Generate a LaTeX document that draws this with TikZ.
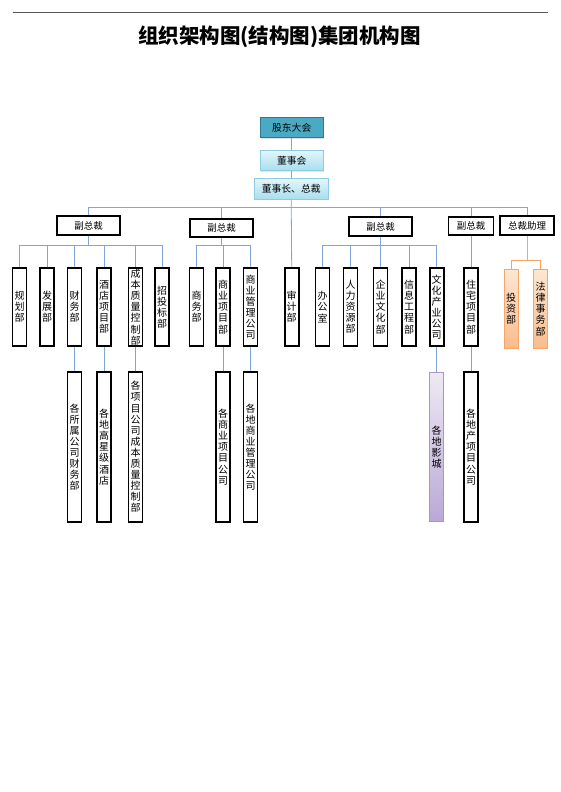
\documentclass[tikz,border=0pt]{standalone}
\usepackage{fontspec}
\newfontfamily\cjk{Noto Sans CJK SC}
\usetikzlibrary{shadows}

\definecolor{LinkBlue}{HTML}{7EA6DA}
\definecolor{LinkOrange}{HTML}{F8A462}
\definecolor{TealFill}{HTML}{4AAAC4}
\definecolor{TealLine}{HTML}{2B7A8F}
\definecolor{CyanTop}{HTML}{E4F5FB}
\definecolor{CyanBot}{HTML}{A8DEEE}
\definecolor{CyanLine}{HTML}{8CCDE3}
\definecolor{PeachTop}{HTML}{FDE6D2}
\definecolor{PeachBot}{HTML}{F9BC8C}
\definecolor{PeachLine}{HTML}{F5A46A}
\definecolor{LilacTop}{HTML}{EEE9F4}
\definecolor{LilacBot}{HTML}{B9A8D7}
\definecolor{LilacLine}{HTML}{A995C9}

\begin{document}
\begin{tikzpicture}[x=1pt, y=-1pt,
  hbox/.style={draw=black, line width=1.7pt, fill=white, inner sep=0pt,
    minimum height=18.5pt, font=\cjk\fontsize{9.5}{11}\selectfont},
  vbox/.style={draw=black, line width=1.7pt, fill=white, inner sep=0pt, align=center,
    minimum width=14pt, minimum height=78.5pt, font=\cjk\fontsize{10}{11.1}\selectfont},
  longbox/.style={vbox, minimum height=149.5pt},
  tealbox/.style={draw=TealLine, line width=1pt, fill=TealFill, inner sep=0pt,
    minimum width=63pt, minimum height=20.5pt, font=\cjk\fontsize{9.8}{11}\selectfont,
    drop shadow={opacity=0.25, shadow xshift=0.8pt, shadow yshift=-0.8pt}},
  cyanbox/.style={draw=CyanLine, line width=0.8pt, top color=CyanTop, bottom color=CyanBot,
    inner sep=0pt, minimum height=20.5pt, font=\cjk\fontsize{9.8}{11}\selectfont,
    drop shadow={opacity=0.2, shadow xshift=0.8pt, shadow yshift=-0.8pt}},
  peachbox/.style={vbox, draw=PeachLine, line width=0.8pt, top color=PeachTop, bottom color=PeachBot},
  lilacbox/.style={longbox, draw=LilacLine, line width=0.8pt, top color=LilacTop, bottom color=LilacBot},
  link/.style={draw=LinkBlue, line width=0.8pt},
  olink/.style={draw=LinkOrange, line width=0.8pt}]

 \useasboundingbox (0,0) rectangle (560,792);

 %%%%%%%%%% Titre %%%%%%%%%%
 \draw [black!65, line width=0.9pt] (12.5,12.5) -- (547.5,12.5);
 \node (title) at (279.5,36.7) {\cjk\bfseries\fontsize{20.5}{22}\selectfont 组织架构图(结构图)集团机构图};

 %%%%%%%%%% Points pour travailler %%%%%%%%%%
 \coordinate (bus) at (0,207.5) ;
 \coordinate (sub) at (0,245) ;
 \coordinate (osub) at (0,260) ;

 %%%%%%%%%% Direction %%%%%%%%%%
 \node [tealbox] (gd) at (291.7,127.5) {股东大会};
 \node [cyanbox, minimum width=63pt] (dsh) at (291.7,160.5) {董事会};
 \node [cyanbox, minimum width=74pt] (zc) at (291.2,189) {董事长、总裁};

 \node [hbox, minimum width=63pt] (fz1) at (88.5,225.5) {副总裁};
 \node [hbox, minimum width=63pt] (fz2) at (221.5,228) {副总裁};
 \node [hbox, minimum width=63pt] (fz3) at (380.7,226.5) {副总裁};
 \node [hbox, minimum width=45pt] (fz4) at (471,226) {副总裁};
 \node [hbox, minimum width=54pt] (zl) at (527,225.5) {总裁助理};

 %%%%%%%%%% Departements %%%%%%%%%%
 \node [vbox] (gh) at (19.5,307) {规\\划\\部};
 \node [vbox] (fzb) at (47,307) {发\\展\\部};
 \node [vbox] (cw) at (74.5,307) {财\\务\\部};
 \node [vbox] (jd) at (104,307) {酒\\店\\项\\目\\部};
 \node [vbox] (cb) at (135.5,307) {成\\本\\质\\量\\控\\制\\部};
 \node [vbox] (ztb) at (162,307) {招\\投\\标\\部};

 \node [vbox] (sw) at (196.5,307) {商\\务\\部};
 \node [vbox] (sy) at (223,307) {商\\业\\项\\目\\部};
 \node [vbox] (sg) at (250.5,307) {商\\业\\管\\理\\公\\司};

 \node [vbox] (sj) at (291.7,307) {审\\计\\部};

 \node [vbox] (bg) at (322.5,307) {办\\公\\室};
 \node [vbox] (rl) at (350.5,307) {人\\力\\资\\源\\部};
 \node [vbox] (qy) at (380.5,307) {企\\业\\文\\化\\部};
 \node [vbox] (xx) at (409,307) {信\\息\\工\\程\\部};
 \node [vbox] (wh) at (436.7,307) {文\\化\\产\\业\\公\\司};

 \node [vbox] (zz) at (471,307) {住\\宅\\项\\目\\部};

 \node [peachbox] (tz) at (511,309) {投\\资\\部};
 \node [peachbox] (fl) at (540.5,309) {法\\律\\事\\务\\部};

 %%%%%%%%%% Filiales %%%%%%%%%%
 \node [longbox] (cwb) at (74.5,447) {各\\所\\属\\公\\司\\财\\务\\部};
 \node [longbox] (jdb) at (104,447) {各\\地\\高\\星\\级\\酒\\店};
 \node [longbox] (cbb) at (135.5,447) {各\\项\\目\\公\\司\\成\\本\\质\\量\\控\\制\\部};
 \node [longbox] (syb) at (223,447) {各\\商\\业\\项\\目\\公\\司};
 \node [longbox] (sgb) at (250.5,447) {各\\地\\商\\业\\管\\理\\公\\司};
 \node [lilacbox] (ycb) at (436.7,447) {各\\地\\影\\城};
 \node [longbox] (dcb) at (471,447) {各\\地\\产\\项\\目\\公\\司};

 %%%%%%%%%% Liaisons %%%%%%%%%%
 \draw [link] (gd) -- (dsh);
 \draw [link] (dsh) -- (zc);
 \draw [link] (zc.south) -- (sj.north);

 \draw [link] (fz1.north) -- (fz1.north |- bus) -- (zc.south |- bus);
 \draw [link] (fz2.north) -- (fz2.north |- bus) -- (zc.south |- bus);
 \draw [link] (fz3.north) -- (fz3.north |- bus) -- (zc.south |- bus);
 \draw [link] (fz4.north) -- (fz4.north |- bus) -- (zc.south |- bus);
 \draw [link] (zl.north) -- (zl.north |- bus) -- (zc.south |- bus);

 % Layer 1
 \draw [link] (fz1.south) -- (fz1.south |- sub);
 \draw [link] (gh.north) -- (gh.north |- sub) -- (fz1.south |- sub);
 \draw [link] (fzb.north) -- (fzb.north |- sub) -- (fz1.south |- sub);
 \draw [link] (cw.north) -- (cw.north |- sub) -- (fz1.south |- sub);
 \draw [link] (jd.north) -- (jd.north |- sub) -- (fz1.south |- sub);
 \draw [link] (cb.north) -- (cb.north |- sub) -- (fz1.south |- sub);
 \draw [link] (ztb.north) -- (ztb.north |- sub) -- (fz1.south |- sub);

 % Layer 2
 \draw [link] (fz2.south) -- (fz2.south |- sub);
 \draw [link] (sw.north) -- (sw.north |- sub) -- (fz2.south |- sub);
 \draw [link] (sy.north) -- (sy.north |- sub) -- (fz2.south |- sub);
 \draw [link] (sg.north) -- (sg.north |- sub) -- (fz2.south |- sub);

 % Layer 3
 \draw [link] (fz3.south) -- (fz3.south |- sub);
 \draw [link] (bg.north) -- (bg.north |- sub) -- (fz3.south |- sub);
 \draw [link] (rl.north) -- (rl.north |- sub) -- (fz3.south |- sub);
 \draw [link] (qy.north) -- (qy.north |- sub) -- (fz3.south |- sub);
 \draw [link] (xx.north) -- (xx.north |- sub) -- (fz3.south |- sub);
 \draw [link] (wh.north) -- (wh.north |- sub) -- (fz3.south |- sub);

 % Layer 4
 \draw [link] (fz4.south) -- (zz.north);
 \draw [olink] (zl.south) -- (zl.south |- osub);
 \draw [olink] (tz.north) -- (tz.north |- osub) -- (zl.south |- osub);
 \draw [olink] (fl.north) -- (fl.north |- osub) -- (zl.south |- osub);

 % Filiales
 \draw [link] (cw.south) -- (cwb.north);
 \draw [link] (jd.south) -- (jdb.north);
 \draw [link] (cb.south) -- (cbb.north);
 \draw [link] (sy.south) -- (syb.north);
 \draw [link] (sg.south) -- (sgb.north);
 \draw [link] (wh.south) -- (ycb.north);
 \draw [link] (zz.south) -- (dcb.north);

\end{tikzpicture}
\end{document}
